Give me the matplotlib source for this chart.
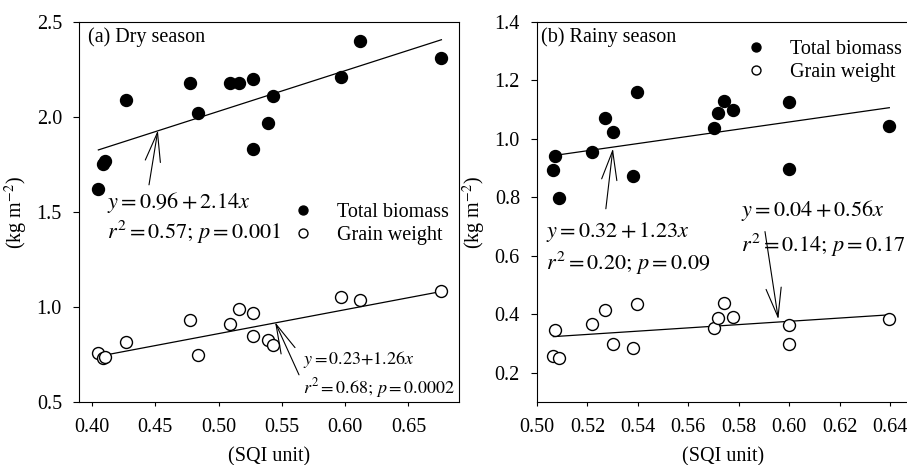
import matplotlib
matplotlib.use("Agg")
from matplotlib import pyplot as plt
import numpy as np


# dry season (panel a)
dry_sqi = [0.405, 0.409, 0.410, 0.427, 0.477, 0.484, 0.509, 0.516, 0.527, 0.527, 0.539, 0.543, 0.597, 0.612, 0.676]
dry_biomass = [1.62, 1.75, 1.77, 2.09, 2.18, 2.02, 2.18, 2.18, 2.20, 1.83, 1.97, 2.11, 2.21, 2.40, 2.31]
dry_grain = [0.76, 0.73, 0.735, 0.815, 0.93, 0.745, 0.91, 0.99, 0.97, 0.85, 0.825, 0.80, 1.055, 1.035, 1.085]

# rainy season (panel b)
rainy_sqi = [0.507, 0.5065, 0.5087, 0.5218, 0.527, 0.530, 0.538, 0.5396, 0.5702, 0.5719, 0.5743, 0.5779, 0.5998, 0.600, 0.6397]
rainy_biomass = [0.942, 0.892, 0.799, 0.956, 1.071, 1.025, 0.874, 1.162, 1.038, 1.089, 1.129, 1.099, 0.898, 1.127, 1.043]
rainy_grain = [0.345, 0.259, 0.250, 0.367, 0.414, 0.298, 0.285, 0.434, 0.353, 0.387, 0.439, 0.391, 0.298, 0.364, 0.384]

# regression coefficients (intercept, slope) as printed
dry_biomass_fit = (0.96, 2.14)
dry_grain_fit = (0.23, 1.26)
rainy_biomass_fit = (0.32, 1.23)
rainy_grain_fit = (0.04, 0.56)

dry_xticks = [0.40, 0.45, 0.50, 0.55, 0.60, 0.65]
dry_yticks = [0.5, 1.0, 1.5, 2.0, 2.5]
rainy_xticks = [0.50, 0.52, 0.54, 0.56, 0.58, 0.60, 0.62, 0.64]
rainy_yticks = [0.2, 0.4, 0.6, 0.8, 1.0, 1.2, 1.4]

plt.rcParams["font.family"] = ["Liberation Serif", "DejaVu Serif"]
plt.rcParams["mathtext.fontset"] = "stix"

FS = 14.5
LW = 0.9
ARROW = dict(arrowstyle="->,head_length=2.1,head_width=0.55", mutation_scale=10,
             lw=0.8, color="black", shrinkA=0, shrinkB=0)


def fit_line(ax, xs, coef):
    x0, x1 = min(xs), max(xs)
    xx = np.array([x0, x1])
    ax.plot(xx, coef[0] + coef[1] * xx, color="black", lw=LW, zorder=2)


def style_axes(ax, xticks, yticks, xfmt, yfmt):
    ax.set_xticks(xticks)
    ax.set_yticks(yticks)
    ax.set_xticklabels([xfmt.format(v) for v in xticks])
    ax.set_yticklabels([yfmt.format(v) for v in yticks])
    ax.tick_params(axis="x", direction="out", length=3.2, width=0.8, pad=8.4, labelsize=FS)
    ax.tick_params(axis="y", direction="out", length=4.3, width=0.8, pad=8.0, labelsize=FS)
    for s in ax.spines.values():
        s.set_linewidth(0.8)
    ax.set_xlabel("(SQI unit)", fontsize=FS)
    ax.set_ylabel("(kg m$^{-2}$)", fontsize=FS)
    ax.xaxis.set_label_coords(0.5, -0.118)


def scatter_pair(ax, xs, bio, grain):
    ax.plot(xs, bio, "o", color="black", ms=8.6, zorder=3, label="Total biomass")
    ax.plot(xs, grain, "o", mfc="white", mec="black", mew=1.0, ms=8.6, zorder=3, label="Grain weight")


fig = plt.figure(figsize=(9.07, 4.65), dpi=100)
ax1 = fig.add_axes([79 / 907, 63 / 465, 379.5 / 907, 380 / 465])
ax2 = fig.add_axes([537 / 907, 63 / 465, 373 / 907, 380 / 465])

# panel a
scatter_pair(ax1, dry_sqi, dry_biomass, dry_grain)
fit_line(ax1, dry_sqi, dry_biomass_fit)
fit_line(ax1, dry_sqi, dry_grain_fit)
ax1.set_xlim(0.3897, 0.6895)
ax1.set_ylim(0.5, 2.5)
style_axes(ax1, dry_xticks, dry_yticks, "{:.2f}", "{:.1f}")
ax1.yaxis.set_label_coords(-0.129, 0.5)
ax1.text(0.024, 0.960, "(a) Dry season", transform=ax1.transAxes, fontsize=FS, va="center")
ax1.text(0.074, 0.526, "$y = 0.96 + 2.14x$", transform=ax1.transAxes, fontsize=16, va="center")
ax1.text(0.074, 0.447, "$r^2 = 0.57;\\, p = 0.001$", transform=ax1.transAxes, fontsize=16, va="center")
ax1.annotate("", xy=(0.452, 1.93), xytext=(0.445, 1.643), arrowprops=ARROW)
ax1.text(0.590, 0.113, "$y = 0.23{+}1.26x$", transform=ax1.transAxes, fontsize=13, va="center")
ax1.text(0.590, 0.037, "$r^2 = 0.68;\\, p = 0.0002$", transform=ax1.transAxes, fontsize=13, va="center")
ax1.annotate("", xy=(0.5446, 0.92), xytext=(0.5635, 0.643), arrowprops=ARROW)
ax1.legend(loc="upper left", bbox_to_anchor=(0.5647, 0.524), frameon=False, fontsize=FS,
           handlelength=1.0, handletextpad=1.15, borderpad=0, borderaxespad=0,
           labelspacing=0.2, markerscale=0.75)

# panel b
scatter_pair(ax2, rainy_sqi, rainy_biomass, rainy_grain)
fit_line(ax2, rainy_sqi, rainy_biomass_fit)
fit_line(ax2, rainy_sqi, rainy_grain_fit)
ax2.set_xlim(0.50, 0.6479)
ax2.set_ylim(0.1, 1.4)
style_axes(ax2, rainy_xticks, rainy_yticks, "{:.2f}", "{:.1f}")
ax2.yaxis.set_label_coords(-0.131, 0.5)
ax2.text(0.011, 0.960, "(b) Rainy season", transform=ax2.transAxes, fontsize=FS, va="center")
ax2.text(0.024, 0.448, "$y = 0.32 + 1.23x$", transform=ax2.transAxes, fontsize=16, va="center")
ax2.text(0.024, 0.366, "$r^2 = 0.20;\\, p = 0.09$", transform=ax2.transAxes, fontsize=16, va="center")
ax2.annotate("", xy=(0.5301, 0.967), xytext=(0.5273, 0.761), arrowprops=ARROW)
ax2.text(0.547, 0.505, "$y = 0.04 + 0.56x$", transform=ax2.transAxes, fontsize=16, va="center")
ax2.text(0.547, 0.413, "$r^2 = 0.14;\\, p = 0.17$", transform=ax2.transAxes, fontsize=16, va="center")
ax2.annotate("", xy=(0.5957, 0.383), xytext=(0.5904, 0.683), arrowprops=ARROW)
ax2.legend(loc="upper left", bbox_to_anchor=(0.561, 0.953), frameon=False, fontsize=FS,
           handlelength=1.0, handletextpad=1.15, borderpad=0, borderaxespad=0,
           labelspacing=0.2, markerscale=0.75)

fig.savefig("out.png", dpi=100)
